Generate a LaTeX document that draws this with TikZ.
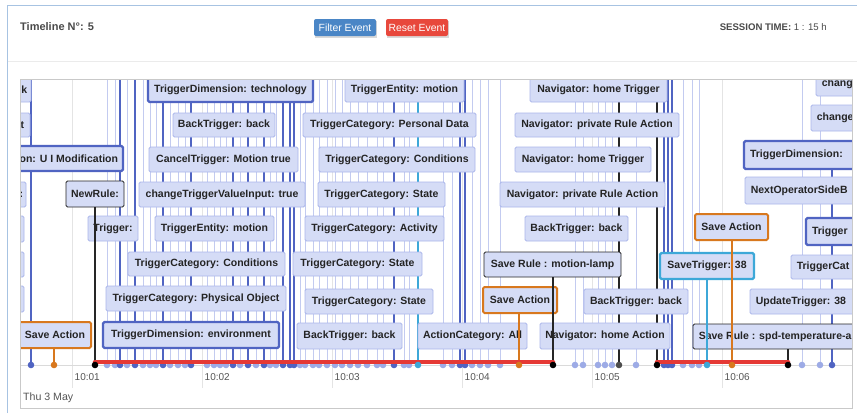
\documentclass[tikz,border=0pt]{standalone}
\usepackage{fontspec}
\setmainfont{Liberation Sans}
\definecolor{cardline}{HTML}{A7C3E2}
\definecolor{sepline}{HTML}{EBEBEB}
\definecolor{panelline}{HTML}{C9C9C9}
\definecolor{gridline}{HTML}{E4E4E4}
\definecolor{axisline}{HTML}{DADADA}
\definecolor{itemfill}{HTML}{D5DCF6}
\definecolor{itemline}{HTML}{ABB7EB}
\definecolor{paleline}{HTML}{C3CBF0}
\definecolor{paledot}{HTML}{9DABE6}
\definecolor{thickblue}{HTML}{5064C2}
\definecolor{saveorange}{HTML}{D8781E}
\definecolor{savecyan}{HTML}{3DA8D8}
\definecolor{rangered}{HTML}{E53935}
\definecolor{btnblue}{HTML}{4A86C6}
\definecolor{btnred}{HTML}{E8483C}
\definecolor{labeltext}{HTML}{242424}
\definecolor{headtext}{HTML}{4A4A4A}
\definecolor{axistext}{HTML}{555555}
% timeline item: style, name, left, right, top, bottom, label
\newcommand{\tlbox}[7]{%
  \pgfmathsetmacro\tlbw{#4-#3}\pgfmathsetmacro\tlbh{#6-#5}%
  \pgfmathsetmacro\tlbx{(#3+#4)/2}\pgfmathsetmacro\tlby{(#5+#6)/2}%
  \node[#1, minimum width=\tlbw pt, minimum height=\tlbh pt] (#2) at (\tlbx,\tlby) {#7};}
\begin{document}
\begin{tikzpicture}[x=1pt,y=-1pt,
  itemfont/.style={font=\bfseries\fontsize{10.5}{12}\selectfont, text=labeltext},
  lbl/.style={itemfont, inner sep=0pt},
  itembox/.style={itemfont, rounded corners=1.5pt, fill=itemfill, inner xsep=2pt, inner ysep=0pt},
  lite/.style={itembox, draw=itemline, line width=0.8pt},
  dark/.style={itembox, draw=thickblue, line width=2.4pt},
  orng/.style={itembox, draw=saveorange, line width=2pt},
  cyanbox/.style={itembox, draw=savecyan, line width=2.4pt},
  blk/.style={itembox, draw=black!85, line width=0.9pt},
  thinline/.style={draw=paleline, line width=0.9pt},
  thickline/.style={draw=thickblue, line width=2.8pt},
  dot/.style={circle, inner sep=0pt, minimum size=6.6pt},
  btn/.style={rounded corners=2pt, text=white, minimum width=62pt, minimum height=17pt,
    inner sep=0pt, font=\fontsize{10.4}{12}\selectfont},
  ticklbl/.style={anchor=west, text=axistext, font=\fontsize{10}{12}\selectfont, inner sep=0pt}]

\useasboundingbox (0,0) rectangle (857,413);
\fill[white] (0,0) rectangle (857,413);

% card frame and header
\draw[cardline, line width=1pt] (7,413) -- (7,5) -- (857,5);
\draw[sepline, line width=1pt] (7.5,61) -- (857,61);
\node[anchor=west, inner sep=0pt, text=headtext, font=\bfseries\fontsize{11}{13}\selectfont] (title) at (20,27) {Timeline N°: 5};
\fill[black!15] (315,20.5) rectangle (377,37.5);
\fill[black!15] (387,20.5) rectangle (449,37.5);
\node[btn, fill=btnblue] (filter) at (345,27.5) {Filter Event};
\node[btn, fill=btnred] (reset) at (417,27.5) {Reset Event};
\node[anchor=east, inner sep=0pt, text=headtext, font=\fontsize{9.6}{11}\selectfont] (session) at (827,27) {\textbf{SESSION TIME:} 1 : 15 h};

% timeline panel
\fill[white] (20,79) rectangle (852,408);
\begin{scope}
\clip (20,79) rectangle (852,408);

% minute grid and labels
\foreach \t/\lab in {72/10:01, 202/10:02, 332/10:03, 462/10:04, 592/10:05, 722/10:06} {
  \draw[gridline, line width=0.9pt] (\t,79) -- (\t,388);
  \node[ticklbl] at (\t+2.5,377) {\lab};
}
\node[anchor=west, inner sep=0pt, text=axistext, font=\fontsize{10.6}{12}\selectfont] (day) at (23,397.5) {Thu 3 May};
\draw[axisline, line width=0.9pt] (20,365) -- (852,365);

% anchor points on the axis
\foreach \x in {31,54,95,107,115,120,127,135,143,150,156,163,170,178,185,191,207,214,220,226,233,240,248,256,264,270,276,283,290,294,300,305,313,319,327,335,342,350,358,367,377,383,394,404,409,418,443,452,460,465,472,480,488,500,519,553,575,583,598,605,612,619,636,657,664,668,672,683,692,699,707,732,788,802,820,832}
  \coordinate (p\x) at (\x,365);

% event lines from above the view
\foreach \x in {107,115,127,143,150,156,170,178,185,207,214,220,226,240,256,270,276,300,305,313,319,327,335,342,350,358,367,377,383,404,409,443,452,472,480,488,500,575,583,598,605,612,636,683,692,699,802,820}
  \draw[thinline] (\x,79) -- (p\x);
\foreach \x in {31,120,135,163,191,233,248,264,283,290,294,394,460,465,664,668,672}
  \draw[thickline] (\x,79) -- (p\x);
\draw[savecyan, line width=1.6pt] (418,79) -- (p418);
\draw[black!85, line width=1.1pt] (619,79) -- (p619);
\draw[black!85, line width=1.1pt] (657,79) -- (p657);

% items, row by row
\tlbox{lite}{a1}{-60}{31}{78}{102}{}
\node[lbl, anchor=east] (a1t) at ([xshift=-4pt]a1.east) {k};
\tlbox{dark}{a2}{148}{313}{78}{102}{TriggerDimension: technology}
\tlbox{lite}{a3}{345}{464}{78}{102}{TriggerEntity: motion}
\tlbox{lite}{a4}{530}{667}{78}{102}{Navigator: home Trigger}
\tlbox{lite}{a5}{816}{920}{71}{96}{}
\node[lbl, anchor=west] (a5t) at ([xshift=6pt]a5.west) {chang};

\tlbox{lite}{b1}{-60}{30}{113}{137}{}
\node[lbl, anchor=east] (b1t) at ([xshift=-6pt]b1.east) {t};
\tlbox{lite}{b2}{173}{275}{113}{137}{BackTrigger: back}
\tlbox{lite}{b3}{303}{476}{113}{137}{TriggerCategory: Personal Data}
\tlbox{lite}{b4}{515}{679}{113}{137}{Navigator: private Rule Action}
\tlbox{lite}{b5}{811}{920}{105}{131}{}
\node[lbl, anchor=west] (b5t) at ([xshift=6pt]b5.west) {change};

\tlbox{dark}{c1}{-60}{123}{146}{171}{}
\node[lbl, anchor=east] (c1t) at ([xshift=-6pt]c1.east) {on: U I Modification};
\tlbox{lite}{c2}{149}{298}{147}{172}{CancelTrigger: Motion true}
\tlbox{lite}{c3}{319}{475}{147}{172}{TriggerCategory: Conditions}
\tlbox{lite}{c4}{515}{651}{147}{172}{Navigator: home Trigger}
\tlbox{dark}{c5}{744}{920}{141}{169}{}
\node[lbl, anchor=west] (c5t) at ([xshift=7pt]c5.west) {TriggerDimension:};

\draw[thickline] (c5.south -| p832) -- (p832);

\tlbox{lite}{d1}{-60}{26}{182}{207}{}
\node[lbl, anchor=east] (d1t) at ([xshift=-3pt]d1.east) {:};
\tlbox{blk}{d2}{66}{124}{181}{207}{NewRule:}
\tlbox{lite}{d3}{139}{305}{182}{207}{changeTriggerValueInput: true}
\tlbox{lite}{d4}{318}{445}{182}{207}{TriggerCategory: State}
\tlbox{lite}{d5}{500}{665}{182}{207}{Navigator: private Rule Action}
\tlbox{lite}{d6}{745}{920}{177}{204}{}
\node[lbl, anchor=west] (d6t) at ([xshift=6pt]d6.west) {NextOperatorSideB};

\tlbox{lite}{e1}{-60}{24}{216}{242}{}
\tlbox{lite}{e2}{88}{138}{216}{241}{Trigger:}
\tlbox{lite}{e3}{155}{274}{216}{241}{TriggerEntity: motion}
\tlbox{lite}{e4}{305}{444}{216}{241}{TriggerCategory: Activity}
\tlbox{lite}{e5}{525}{628}{216}{241}{BackTrigger: back}
\tlbox{orng}{e6}{695}{768}{214}{240}{Save Action}
\tlbox{dark}{e7}{806}{920}{218}{245}{}
\node[lbl, anchor=west] (e7t) at ([xshift=7pt]e7.west) {Trigger};

\tlbox{lite}{f1}{-60}{24}{252}{277}{}
\tlbox{lite}{f2}{128}{285}{252}{276}{TriggerCategory: Conditions}
\tlbox{lite}{f3}{293}{422}{252}{276}{TriggerCategory: State}
\tlbox{blk}{f4}{484}{621}{252}{277}{Save Rule : motion-lamp}
\tlbox{cyanbox}{f5}{660}{754}{253}{279}{SaveTrigger: 38}
\tlbox{lite}{f6}{791}{920}{255}{279}{}
\node[lbl, anchor=west] (f6t) at ([xshift=6pt]f6.west) {TriggerCat};

\tlbox{lite}{g1}{-60}{24}{286}{312}{}
\tlbox{lite}{g2}{106}{286}{286}{311}{TriggerCategory: Physical Object}
\tlbox{lite}{g3}{305}{433}{289}{314}{TriggerCategory: State}
\tlbox{orng}{g4}{483}{557}{287}{313}{Save Action}
\tlbox{lite}{g5}{584}{688}{289}{314}{BackTrigger: back}
\tlbox{lite}{g6}{750}{920}{289}{314}{}
\node[lbl, anchor=west] (g6t) at ([xshift=6pt]g6.west) {UpdateTrigger: 38};

\tlbox{orng}{h1}{19}{91}{322}{348}{Save Action}
\tlbox{dark}{h2}{103}{279}{322}{348}{TriggerDimension: environment}
\tlbox{lite}{h3}{297}{402}{323}{349}{BackTrigger: back}
\tlbox{lite}{h4}{418}{527}{323}{349}{ActionCategory: All}
\tlbox{lite}{h5}{540}{670}{323}{349}{Navigator: home Action}
\tlbox{blk}{h6}{693}{920}{324}{349}{}
\node[lbl, anchor=west] (h6t) at ([xshift=6pt]h6.west) {Save Rule : spd-temperature-a};

% stems from items down to the axis
\draw[saveorange, line width=2pt] (h1.south -| p54) -- (p54);
\draw[black!85, line width=1.1pt] (d2.south -| p95) -- (p95);
\draw[saveorange, line width=2pt] (g4.south -| p519) -- (p519);
\draw[black!85, line width=1.1pt] (f4.south -| p553) -- (p553);
\draw[savecyan, line width=2pt] (f5.south -| p707) -- (p707);
\draw[saveorange, line width=2pt] (e6.south -| p732) -- (p732);
\draw[black!85, line width=1.1pt] (h6.south -| p788) -- (p788);

% dots on the axis
\foreach \x in {107,115,127,143,150,156,170,178,185,207,214,220,226,240,256,270,276,300,305,313,319,327,335,342,350,358,367,377,383,404,409,443,452,472,480,488,500,575,583,598,605,612,636,683,692,699,802,820}
  \node[dot, fill=paledot] at (p\x) {};
\foreach \x in {31,120,135,163,191,233,248,264,283,290,294,394,460,465,664,668,672,832}
  \node[dot, fill=thickblue] at (p\x) {};

% selected ranges
\draw[rangered, line width=4.5pt, line cap=round] ([yshift=3pt]p95) -- ([yshift=3pt]p553);
\draw[rangered, line width=4.5pt, line cap=round] ([yshift=3pt]p657) -- ([yshift=3pt]p788);

\node[dot, fill=savecyan] at (p418) {};
\node[dot, fill=savecyan] at (p707) {};
\node[dot, fill=saveorange] at (p54) {};
\node[dot, fill=saveorange] at (p519) {};
\node[dot, fill=saveorange] at (p732) {};
\node[dot, fill=black] at (p95) {};
\node[dot, fill=black] at (p553) {};
\node[dot, fill=black!70] at (p619) {};
\node[dot, fill=black] at (p657) {};
\node[dot, fill=black] at (p788) {};
\end{scope}
\draw[panelline, line width=1pt] (20,79) rectangle (852,408);
\end{tikzpicture}
\end{document}
